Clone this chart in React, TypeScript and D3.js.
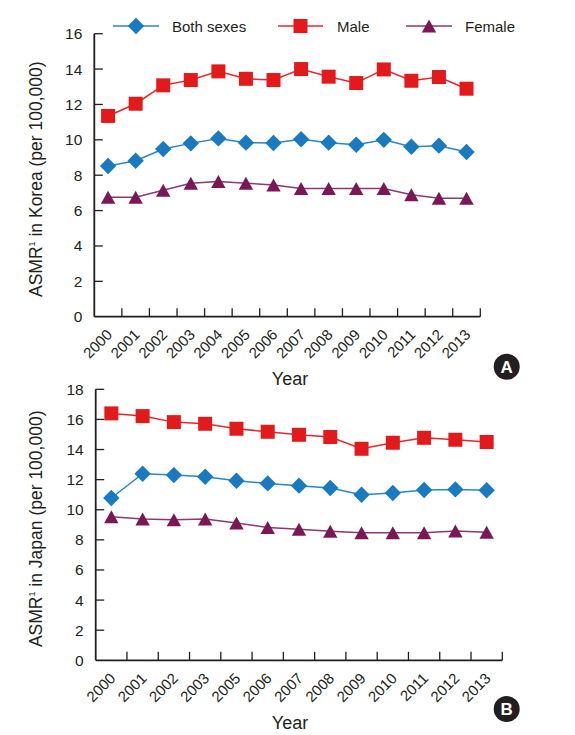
import React from "react";
import * as d3 from "d3";

const koreaYears = ["2000","2001","2002","2003","2004","2005","2006","2007","2008","2009","2010","2011","2012","2013"];
const koreaBoth = [8.52, 8.82, 9.48, 9.8, 10.08, 9.84, 9.82, 10.03, 9.84, 9.72, 10.0, 9.61, 9.67, 9.31];
const koreaMale = [11.35, 12.04, 13.08, 13.38, 13.87, 13.45, 13.38, 14.0, 13.57, 13.21, 13.98, 13.34, 13.55, 12.89];
const koreaFemale = [6.75, 6.75, 7.15, 7.55, 7.65, 7.55, 7.45, 7.25, 7.25, 7.25, 7.25, 6.9, 6.7, 6.7];

const japanYears = ["2000","2001","2002","2003","2005","2006","2007","2008","2009","2010","2011","2012","2013"];
const japanBoth = [10.78, 12.39, 12.3, 12.19, 11.93, 11.75, 11.6, 11.44, 11.0, 11.11, 11.31, 11.35, 11.29];
const japanMale = [16.4, 16.22, 15.82, 15.71, 15.38, 15.18, 14.98, 14.83, 14.05, 14.45, 14.78, 14.65, 14.5];
const japanFemale = [9.54, 9.38, 9.34, 9.38, 9.12, 8.82, 8.7, 8.57, 8.48, 8.48, 8.48, 8.58, 8.5];

const koreaTicks = [0, 2, 4, 6, 8, 10, 12, 14, 16];
const japanTicks = [0, 2, 4, 6, 8, 10, 12, 14, 16, 18];

const seriesNames = ["Both sexes", "Male", "Female"];

const FONT = "'Liberation Sans', Arial, Helvetica, sans-serif";
const TXT = "#231f20";
const MARK = ["#1a7abf", "#e31a1c", "#7a1856"];
const LINE = ["#2a86c6", "#e2282d", "#8a3a6c"];

function Marker({ kind, x, y }: { kind: number; x: number; y: number }) {
  if (kind === 0) {
    const r = 8.2;
    return <path d={`M${x},${y - r}L${x + r},${y}L${x},${y + r}L${x - r},${y}Z`} fill={MARK[0]} />;
  }
  if (kind === 1) {
    const s = 7;
    return <rect x={x - s} y={y - s} width={2 * s} height={2 * s} fill={MARK[1]} />;
  }
  return <path d={`M${x},${y - 6.5}L${x + 7.2},${y + 6.5}L${x - 7.2},${y + 6.5}Z`} fill={MARK[2]} />;
}

function Panel({ years, series, ticks, yMax, x0, x1, yTop, yBottom, ylabel, letter, badgeY, titleY }: any) {
  const x = d3.scaleBand().domain(years).range([x0, x1]).padding(0);
  const y = d3.scaleLinear().domain([0, yMax]).range([yBottom, yTop]);
  const bw = x.bandwidth();
  const cx = (d: string) => (x(d) as number) + bw / 2;
  const line = d3.line<[number, number]>().x((p) => p[0]).y((p) => p[1]);
  const midY = (yTop + yBottom) / 2;
  return (
    <g>
      <line x1={x0} x2={x0} y1={yTop} y2={yBottom} stroke={TXT} strokeWidth={1.8} />
      {ticks.map((t: number) => (
        <g key={"yt" + t}>
          {t > 0 && <line x1={x0} x2={x0 + 8.5} y1={y(t)} y2={y(t)} stroke={TXT} strokeWidth={1.3} />}
          <text x={x0 - 12} y={y(t) + 5.5} textAnchor="end" fontSize={15.5} fontFamily={FONT} fill={TXT}>{t}</text>
        </g>
      ))}
      <line x1={x0} x2={x1} y1={yBottom} y2={yBottom} stroke={TXT} strokeWidth={1.8} />
      {years.map((d: string) => (
        <g key={"xt" + d}>
          <line x1={(x(d) as number) + bw} x2={(x(d) as number) + bw} y1={yBottom} y2={yBottom - 8.5} stroke={TXT} strokeWidth={1.3} />
          <text transform={`translate(${cx(d) + 5},${yBottom + 19}) rotate(-45)`} textAnchor="end" fontSize={15} fontFamily={FONT} fill={TXT}>{d}</text>
        </g>
      ))}
      <text transform={`translate(41.5,${midY + 4}) rotate(-90)`} textAnchor="middle" fontSize={17.5} fontFamily={FONT} fill={TXT}>
        ASMR<tspan fontSize={9} dy={-7}>1</tspan><tspan dy={7}> in {ylabel} (per 100,000)</tspan>
      </text>
      <text x={290} y={titleY} textAnchor="middle" fontSize={18} fontFamily={FONT} fill={TXT}>Year</text>
      {series.map((vals: number[], si: number) => (
        <g key={"s" + si}>
          <path d={line(years.map((d: string, i: number) => [cx(d), y(vals[i])]) as any) || ""} fill="none" stroke={LINE[si]} strokeWidth={1.5} />
          {years.map((d: string, i: number) => (
            <Marker key={d} kind={si} x={cx(d)} y={y(vals[i])} />
          ))}
        </g>
      ))}
      <circle cx={506.7} cy={badgeY} r={13} fill="#231f20" />
      <text x={506.7} y={badgeY + 6} textAnchor="middle" fontSize={17} fontWeight="bold" fontFamily={FONT} fill="#fff">{letter}</text>
    </g>
  );
}

export default function App() {
  const legend = [
    { x1: 113, x2: 159, tx: 172 },
    { x1: 278, x2: 323, tx: 337 },
    { x1: 406, x2: 452, tx: 465 },
  ];
  return (
    <svg width={575} height={735} style={{ position: "absolute", left: 0, top: 0, background: "#fff" }}>
      <rect x={0} y={0} width={575} height={735} fill="#fff" />
      {legend.map((l, i) => (
        <g key={"lg" + i}>
          <line x1={l.x1} x2={l.x2} y1={26} y2={26} stroke={LINE[i]} strokeWidth={1.5} />
          <Marker kind={i} x={(l.x1 + l.x2) / 2} y={26} />
          <text x={l.tx} y={31.5} fontSize={15} fontFamily={FONT} fill={TXT}>{seriesNames[i]}</text>
        </g>
      ))}
      <Panel years={koreaYears} series={[koreaBoth, koreaMale, koreaFemale]} ticks={koreaTicks} yMax={16}
        x0={94.3} x1={480.3} yTop={33.7} yBottom={316.7} ylabel="Korea" letter="A" badgeY={366.7} titleY={385} />
      <Panel years={japanYears} series={[japanBoth, japanMale, japanFemale]} ticks={japanTicks} yMax={18}
        x0={95.7} x1={502.3} yTop={389.3} yBottom={660.3} ylabel="Japan" letter="B" badgeY={709} titleY={729} />
    </svg>
  );
}
